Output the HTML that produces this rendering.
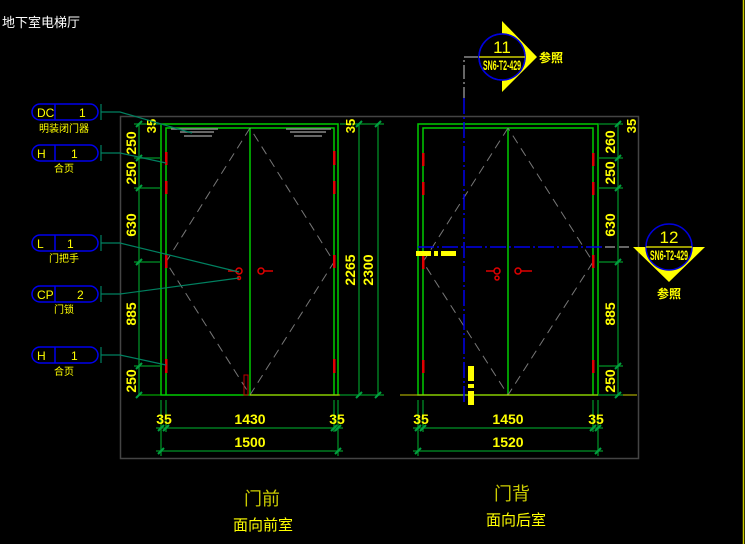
<!DOCTYPE html>
<html><head><meta charset="utf-8"><style>
html,body{margin:0;padding:0;background:#000;width:745px;height:544px;overflow:hidden}
svg{display:block}
.t{font-family:"Liberation Sans","Noto Sans CJK SC",sans-serif}
.d{font-family:"Liberation Sans Narrow","Liberation Sans",sans-serif;font-weight:bold;fill:#ffff00;font-size:14px}
</style></head><body>
<svg width="745" height="544" viewBox="0 0 745 544" xmlns="http://www.w3.org/2000/svg">
<rect width="745" height="544" fill="#000"/>
<text x="2" y="27" class="t" fill="#fff" font-size="13">地下室电梯厅</text>
<!-- gray bounding box -->
<rect x="120.5" y="116.5" width="518" height="342" fill="none" stroke="#444" stroke-width="1.5"/>
<line x1="743.5" y1="0" x2="743.5" y2="544" stroke="#cccc00" stroke-width="1.5"/>

<!-- LEFT DOOR -->
<g fill="none">
<rect x="161" y="124" width="177" height="271" stroke="#00cc00" stroke-width="1.5"/>
<polyline points="166,395 166,128 334,128 334,395" stroke="#00cc00" stroke-width="1.5"/>
<line x1="250" y1="128" x2="250" y2="395" stroke="#00cc00" stroke-width="1.5"/>
<polyline points="250,128 166,262 250,395 334,262 250,128" stroke="#777" stroke-dasharray="9,6"/>
<line x1="250" y1="395" x2="340" y2="395" stroke="#cccc00"/>
<line x1="140" y1="395" x2="250" y2="395" stroke="#00cc00"/>
<!-- closers -->
<g stroke="#888" stroke-width="1.5"><line x1="171" y1="129" x2="218" y2="129"/><line x1="180" y1="132" x2="214" y2="132"/><line x1="184" y1="136" x2="212" y2="136"/><line x1="286" y1="129" x2="331" y2="129"/><line x1="290" y1="132" x2="326" y2="132"/><line x1="294" y1="136" x2="322" y2="136"/></g>
</g>
<g fill="#e00000">
<rect x="165" y="152" width="2.5" height="13"/><rect x="165" y="181" width="2.5" height="13"/><rect x="165" y="255" width="2.5" height="13"/><rect x="165" y="359" width="2.5" height="14"/>
<rect x="333" y="151" width="2.5" height="14"/><rect x="333" y="181" width="2.5" height="13"/><rect x="333" y="255" width="2.5" height="13"/><rect x="333" y="359" width="2.5" height="14"/>
</g>
<rect x="244" y="375" width="4" height="20" fill="none" stroke="#c00000"/>
<g stroke="#e00000" fill="none" stroke-width="1.5">
<circle cx="239" cy="271" r="3"/><line x1="228" y1="271" x2="236" y2="271"/><circle cx="239" cy="278" r="1.5"/>
<circle cx="261" cy="271" r="3"/><line x1="264" y1="271" x2="273" y2="271"/>
</g>

<!-- RIGHT DOOR -->
<g fill="none">
<rect x="418" y="124" width="180" height="271" stroke="#00cc00" stroke-width="1.5"/>
<polyline points="423,395 423,128 593,128 593,395" stroke="#00cc00" stroke-width="1.5"/>
<line x1="508" y1="128" x2="508" y2="395" stroke="#00cc00" stroke-width="1.5"/>
<polyline points="508,128 423,262 508,395 593,262 508,128" stroke="#777" stroke-dasharray="9,6"/>
<line x1="400" y1="395" x2="637" y2="395" stroke="#cccc00"/>
</g>
<g fill="#e00000">
<rect x="422" y="153" width="2.5" height="13"/><rect x="422" y="182" width="2.5" height="13"/><rect x="422" y="256" width="2.5" height="13"/><rect x="422" y="360" width="2.5" height="13"/>
<rect x="592" y="153" width="2.5" height="13"/><rect x="592" y="182" width="2.5" height="13"/><rect x="592" y="255" width="2.5" height="13"/><rect x="592" y="360" width="2.5" height="13"/>
</g>
<g stroke="#e00000" fill="none" stroke-width="1.5">
<circle cx="497" cy="271" r="3"/><line x1="486" y1="271" x2="494" y2="271"/><circle cx="497" cy="278" r="2"/>
<circle cx="518" cy="271" r="3"/><line x1="521" y1="271" x2="532" y2="271"/>
</g>

<!-- section lines -->
<polyline points="478,57 464,57 464,98" fill="none" stroke="#888" stroke-width="1.5" stroke-dasharray="14,3,2,3"/>
<line x1="464" y1="98" x2="464" y2="402" stroke="#0000ee" stroke-width="1.5" stroke-dasharray="16,3,2,3"/>
<line x1="418" y1="247" x2="605" y2="247" stroke="#0000ee" stroke-width="1.5" stroke-dasharray="16,3,2,3"/>
<line x1="605" y1="247" x2="633" y2="247" stroke="#888" stroke-width="1.5" stroke-dasharray="10,4"/>
<g fill="#ffff00"><rect x="416" y="251" width="15" height="5"/><rect x="434" y="251" width="4" height="5"/><rect x="441" y="251" width="15" height="5"/>
<rect x="468" y="366" width="6" height="15"/><rect x="468" y="384" width="6" height="4"/><rect x="468" y="391" width="6" height="14"/></g>

<!-- marker 11 -->
<polygon points="502,21 537,57 502,92" fill="#ffff00"/>
<path d="M502,34 A23,23 0 0,0 502,80 Z" fill="#000"/>
<circle cx="502" cy="57" r="23" fill="none" stroke="#0000dd" stroke-width="1.5"/>
<path d="M502,34 A23,23 0 0,1 525,57 L502,57 Z" fill="#000"/>
<path d="M525,57 A23,23 0 0,1 502,80 L502,57Z" fill="#000"/>
<circle cx="502" cy="57" r="23" fill="none" stroke="#0000dd" stroke-width="1.5"/>
<line x1="479" y1="57" x2="525" y2="57" stroke="#cccc00" stroke-width="1.5"/>
<text x="502" y="53" class="t" fill="#ffff00" font-size="17" text-anchor="middle">11</text>
<text x="502" y="70" class="d" font-size="9" text-anchor="middle" textLength="38" lengthAdjust="spacingAndGlyphs">SN6-T2-429</text>
<text x="539" y="62" class="t" fill="#ffff00" font-size="12" font-weight="bold">参照</text>

<!-- marker 12 -->
<polygon points="633,247 705,247 669,282" fill="#ffff00"/>
<path d="M646,247 A23,23 0 0,1 692,247 Z" fill="#000"/>
<path d="M646,247 A23,23 0 0,0 692,247 Z" fill="#000"/>
<circle cx="669" cy="247" r="23" fill="none" stroke="#0000dd" stroke-width="1.5"/>
<line x1="646" y1="247" x2="692" y2="247" stroke="#cccc00" stroke-width="1.5"/>
<text x="669" y="243" class="t" fill="#ffff00" font-size="17" text-anchor="middle">12</text>
<text x="669" y="260" class="d" font-size="9" text-anchor="middle" textLength="38" lengthAdjust="spacingAndGlyphs">SN6-T2-429</text>
<text x="669" y="298" class="t" fill="#ffff00" font-size="12" font-weight="bold" text-anchor="middle">参照</text>

<!-- dimension lines -->
<g stroke="#007a20" stroke-width="1.5" fill="none">
<line x1="139" y1="124" x2="139" y2="395"/>
<line x1="134" y1="124" x2="161" y2="124"/><line x1="134" y1="158" x2="161" y2="158"/><line x1="134" y1="188" x2="161" y2="188"/><line x1="134" y1="262" x2="161" y2="262"/><line x1="134" y1="366" x2="161" y2="366"/>
<line x1="359" y1="124" x2="359" y2="395"/><line x1="378" y1="124" x2="378" y2="395"/>
<line x1="340" y1="124" x2="384" y2="124"/><line x1="340" y1="395" x2="384" y2="395"/>
<line x1="618" y1="124" x2="618" y2="395"/>
<line x1="598" y1="124" x2="623" y2="124"/><line x1="598" y1="158" x2="623" y2="158"/><line x1="598" y1="188" x2="623" y2="188"/><line x1="598" y1="262" x2="623" y2="262"/><line x1="598" y1="366" x2="623" y2="366"/><line x1="598" y1="395" x2="623" y2="395"/>
<line x1="161" y1="400" x2="161" y2="456"/><line x1="166" y1="400" x2="166" y2="432"/><line x1="334" y1="400" x2="334" y2="432"/><line x1="338" y1="400" x2="338" y2="456"/>
<line x1="156" y1="428" x2="343" y2="428"/><line x1="156" y1="451" x2="343" y2="451"/>
<line x1="418" y1="400" x2="418" y2="456"/><line x1="423" y1="400" x2="423" y2="432"/><line x1="593" y1="400" x2="593" y2="432"/><line x1="598" y1="400" x2="598" y2="456"/>
<line x1="413" y1="428" x2="603" y2="428"/><line x1="413" y1="451" x2="603" y2="451"/>
</g>
<g stroke="#00a040" stroke-width="2">
<path d="M136,127 l6,-6 M136,161 l6,-6 M136,191 l6,-6 M136,265 l6,-6 M136,369 l6,-6 M136,398 l6,-6 M356,127 l6,-6 M375,127 l6,-6 M356,398 l6,-6 M375,398 l6,-6 M615,127 l6,-6 M615,161 l6,-6 M615,191 l6,-6 M615,265 l6,-6 M615,369 l6,-6 M615,398 l6,-6 M158,431 l6,-6 M163,431 l6,-6 M331,431 l6,-6 M335,431 l6,-6 M158,454 l6,-6 M335,454 l6,-6 M415,431 l6,-6 M420,431 l6,-6 M590,431 l6,-6 M595,431 l6,-6 M415,454 l6,-6 M595,454 l6,-6"/>
</g>
<!-- dimension text -->
<g class="d">
<text transform="translate(156,126) rotate(-90)" text-anchor="middle" font-size="13">35</text>
<text transform="translate(136,143) rotate(-90)" text-anchor="middle">250</text>
<text transform="translate(136,173) rotate(-90)" text-anchor="middle">250</text>
<text transform="translate(136,225) rotate(-90)" text-anchor="middle">630</text>
<text transform="translate(136,314) rotate(-90)" text-anchor="middle">885</text>
<text transform="translate(136,381) rotate(-90)" text-anchor="middle">250</text>
<text transform="translate(355,126) rotate(-90)" text-anchor="middle" font-size="13">35</text>
<text transform="translate(355,270) rotate(-90)" text-anchor="middle">2265</text>
<text transform="translate(373,270) rotate(-90)" text-anchor="middle">2300</text>
<text transform="translate(636,126) rotate(-90)" text-anchor="middle" font-size="13">35</text>
<text transform="translate(615,142) rotate(-90)" text-anchor="middle">260</text>
<text transform="translate(615,173) rotate(-90)" text-anchor="middle">250</text>
<text transform="translate(615,225) rotate(-90)" text-anchor="middle">630</text>
<text transform="translate(615,314) rotate(-90)" text-anchor="middle">885</text>
<text transform="translate(615,381) rotate(-90)" text-anchor="middle">250</text>
<text x="164" y="424" text-anchor="middle">35</text>
<text x="250" y="424" text-anchor="middle">1430</text>
<text x="337" y="424" text-anchor="middle">35</text>
<text x="250" y="447" text-anchor="middle">1500</text>
<text x="421" y="424" text-anchor="middle">35</text>
<text x="508" y="424" text-anchor="middle">1450</text>
<text x="596" y="424" text-anchor="middle">35</text>
<text x="508" y="447" text-anchor="middle">1520</text>
</g>

<!-- labels -->
<g stroke="#008060" stroke-width="1.2" fill="none">
<polyline points="101,112 120,112 192,133"/>
<polyline points="101,153 120,153 166,163"/>
<polyline points="101,243 120,243 239,272"/>
<polyline points="101,294 120,294 239,278"/>
<polyline points="101,355 120,355 166,365"/>
<line x1="101" y1="104" x2="101" y2="120"/><line x1="101" y1="145" x2="101" y2="161"/><line x1="101" y1="235" x2="101" y2="251"/><line x1="101" y1="286" x2="101" y2="302"/><line x1="101" y1="347" x2="101" y2="363"/>
</g>
<g fill="none" stroke="#0000ee" stroke-width="1.5">
<rect x="32" y="104" width="66" height="16" rx="8"/><line x1="55" y1="104" x2="55" y2="120"/>
<rect x="32" y="145" width="66" height="16" rx="8"/><line x1="55" y1="145" x2="55" y2="161"/>
<rect x="32" y="235" width="66" height="16" rx="8"/><line x1="55" y1="235" x2="55" y2="251"/>
<rect x="32" y="286" width="66" height="16" rx="8"/><line x1="55" y1="286" x2="55" y2="302"/>
<rect x="32" y="347" width="66" height="16" rx="8"/><line x1="55" y1="347" x2="55" y2="363"/>
</g>
<g class="t" fill="#ffff00" font-size="12">
<text x="37" y="117">DC</text><text x="79" y="117">1</text>
<text x="37" y="158">H</text><text x="71" y="158">1</text>
<text x="37" y="248">L</text><text x="67" y="248">1</text>
<text x="37" y="299">CP</text><text x="77" y="299">2</text>
<text x="37" y="360">H</text><text x="71" y="360">1</text>
</g>
<g class="t" fill="#ffff00" font-size="10" text-anchor="middle">
<text x="64" y="132">明装闭门器</text>
<text x="64" y="172">合页</text>
<text x="64" y="262">门把手</text>
<text x="64" y="313">门锁</text>
<text x="64" y="375">合页</text>
</g>

<!-- titles -->
<text x="262" y="505" class="t" fill="#cccc00" font-size="18" text-anchor="middle">门前</text>
<text x="263" y="530" class="t" fill="#ffff00" font-size="15" text-anchor="middle">面向前室</text>
<text x="512" y="500" class="t" fill="#cccc00" font-size="18" text-anchor="middle">门背</text>
<text x="516" y="525" class="t" fill="#ffff00" font-size="15" text-anchor="middle">面向后室</text>
</svg>
</body></html>
